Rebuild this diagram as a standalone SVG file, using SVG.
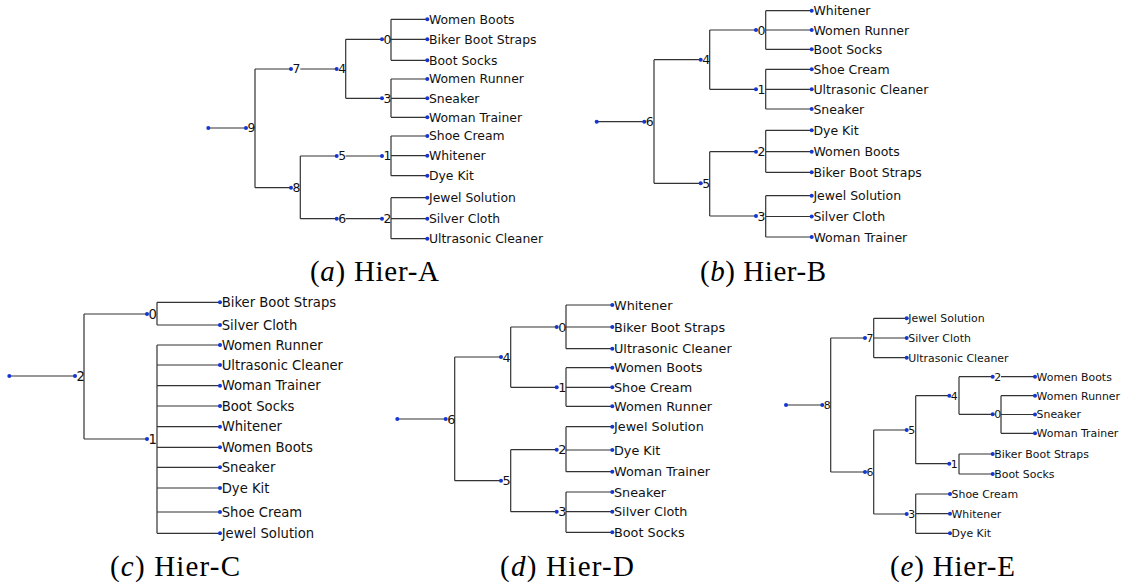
<svg xmlns="http://www.w3.org/2000/svg" width="1123" height="588" viewBox="0 0 1123 588">
<style>
.ln{stroke:#333;stroke-width:1.2;fill:none}
.dt{fill:#1436d2}
text{font-family:"DejaVu Sans",Verdana,sans-serif;fill:#111}
.a text{font-size:12.4px}
.b text{font-size:12.5px}
.c text{font-size:13.2px}
.d text{font-size:12.8px}
.e text{font-size:10.9px}
.cap{font-family:"Liberation Serif","Times New Roman",serif;font-size:29px;fill:#000}
</style>
<rect width="1123" height="588" fill="#fff"/>

<!-- ===== Connectors ===== -->
<g id="connectors" class="ln">
  <!-- A -->
  <path d="M208.3,128H246 M255,69V187.7 M255,69H291 M255,187.7H291 M300.3,69H336.7 M345.7,39.3V98.3 M345.7,39.3H382 M345.7,98.3H382 M391,19.3V60.3 M391,19.3H427.3 M391,39.3H427.3 M391,60.3H427.3 M391,79V117.3 M391,79H427.3 M391,98.3H427.3 M391,117.3H427.3 M300.3,156V218.7 M300.3,156H336.7 M300.3,218.7H336.7 M345.7,156H382 M391,136V175.7 M391,136H427.3 M391,155.7H427.3 M391,175.7H427.3 M345.7,218.7H382 M391,197.7V238.7 M391,197.7H427.3 M391,218.7H427.3 M391,238.7H427.3"/>
  <!-- B -->
  <path d="M596.7,121.7H644.3 M654,59.7V183.3 M654,59.7H700.7 M654,183.3H700.7 M709.7,30V89.3 M709.7,30H756 M709.7,89.3H756 M765.7,10.7V49.3 M765.7,10.7H811.7 M765.7,30H811.7 M765.7,49.3H811.7 M765.7,69.3V109 M765.7,69.3H811.7 M765.7,89.3H811.7 M765.7,109H811.7 M709.7,151.7V216 M709.7,151.7H756 M709.7,216H756 M765.7,130.3V172.3 M765.7,130.3H811.7 M765.7,151.7H811.7 M765.7,172.3H811.7 M765.7,195.7V237 M765.7,195.7H811.7 M765.7,216.5H811.7 M765.7,237H811.7"/>
  <!-- C -->
  <path d="M9.3,376H75 M84,314V439 M84,314H147 M84,439H147 M157,302.3V325 M157,302.3H220 M157,325H220 M157,345V533.3 M157,345H220 M157,365H220 M157,385.7H220 M157,406H220 M157,426.7H220 M157,447.3H220 M157,467.3H220 M157,488H220 M157,512H220 M157,533.3H220"/>
  <!-- D -->
  <path d="M397.3,419H445.7 M454.7,357V480.7 M454.7,357H501 M454.7,480.7H501 M510.7,327V387.3 M510.7,327H556.7 M510.7,387.3H556.7 M566,305V348.7 M566,305H612.3 M566,327H612.3 M566,348.7H612.3 M566,367.7V406.3 M566,367.7H612.3 M566,387.3H612.3 M566,406.3H612.3 M510.7,449.7V511.7 M510.7,449.7H556.7 M510.7,511.7H556.7 M566,426.7V471.7 M566,426.7H612.3 M566,450H612.3 M566,471.7H612.3 M566,492V532.3 M566,492H612.3 M566,511.7H612.3 M566,532.3H612.3"/>
  <!-- E -->
  <path d="M786,405H822.3 M830.7,338V472 M830.7,338H865 M830.7,472H865 M873.7,318.3V357.7 M873.7,318.3H906.7 M873.7,338H906.7 M873.7,357.7H906.7 M873.7,430V514 M873.7,430H906.7 M873.7,514H906.7 M915.7,395.7V463.7 M915.7,395.7H949.3 M915.7,463.7H949.3 M959,376.7V414.3 M959,376.7H992.7 M959,414.3H992.7 M1001,376.7H1035 M1001,395.7V433.3 M1001,395.7H1035 M1001,414.5H1035 M1001,433.3H1035 M959,454V474 M959,454H992.7 M959,474H992.7 M915.7,494V533.3 M915.7,494H950 M915.7,513.7H950 M915.7,533.3H950"/>
</g>

<!-- ===== Panel A ===== -->
<g id="panel-a" class="a">
  <g id="a-root"><circle class="dt" cx="208.3" cy="128" r="2"/></g>
  <g id="a-n9"><circle class="dt" cx="246" cy="128" r="2"/><text x="247.5" y="128" dy="0.36em">9</text></g>
  <g id="a-n7"><circle class="dt" cx="291" cy="69" r="2"/><text x="292.5" y="69" dy="0.36em">7</text></g>
  <g id="a-n8"><circle class="dt" cx="291" cy="187.7" r="2"/><text x="292.5" y="187.7" dy="0.36em">8</text></g>
  <g id="a-n4"><circle class="dt" cx="336.7" cy="69" r="2"/><text x="338.2" y="69" dy="0.36em">4</text></g>
  <g id="a-n5"><circle class="dt" cx="336.7" cy="156" r="2"/><text x="338.2" y="156" dy="0.36em">5</text></g>
  <g id="a-n6"><circle class="dt" cx="336.7" cy="218.7" r="2"/><text x="338.2" y="218.7" dy="0.36em">6</text></g>
  <g id="a-n0"><circle class="dt" cx="382" cy="39.3" r="2"/><text x="383.5" y="39.3" dy="0.36em">0</text></g>
  <g id="a-n3"><circle class="dt" cx="382" cy="98.3" r="2"/><text x="383.5" y="98.3" dy="0.36em">3</text></g>
  <g id="a-n1"><circle class="dt" cx="382" cy="156" r="2"/><text x="383.5" y="156" dy="0.36em">1</text></g>
  <g id="a-n2"><circle class="dt" cx="382" cy="218.7" r="2"/><text x="383.5" y="218.7" dy="0.36em">2</text></g>
  <g id="a-women-boots"><circle class="dt" cx="427.3" cy="19.3" r="2"/><text x="429" y="19.3" dy="0.36em">Women Boots</text></g>
  <g id="a-biker-boot-straps"><circle class="dt" cx="427.3" cy="39.3" r="2"/><text x="429" y="39.3" dy="0.36em">Biker Boot Straps</text></g>
  <g id="a-boot-socks"><circle class="dt" cx="427.3" cy="60.3" r="2"/><text x="429" y="60.3" dy="0.36em">Boot Socks</text></g>
  <g id="a-women-runner"><circle class="dt" cx="427.3" cy="79" r="2"/><text x="429" y="79" dy="0.36em">Women Runner</text></g>
  <g id="a-sneaker"><circle class="dt" cx="427.3" cy="98.3" r="2"/><text x="429" y="98.3" dy="0.36em">Sneaker</text></g>
  <g id="a-woman-trainer"><circle class="dt" cx="427.3" cy="117.3" r="2"/><text x="429" y="117.3" dy="0.36em">Woman Trainer</text></g>
  <g id="a-shoe-cream"><circle class="dt" cx="427.3" cy="136" r="2"/><text x="429" y="136" dy="0.36em">Shoe Cream</text></g>
  <g id="a-whitener"><circle class="dt" cx="427.3" cy="155.7" r="2"/><text x="429" y="155.7" dy="0.36em">Whitener</text></g>
  <g id="a-dye-kit"><circle class="dt" cx="427.3" cy="175.7" r="2"/><text x="429" y="175.7" dy="0.36em">Dye Kit</text></g>
  <g id="a-jewel-solution"><circle class="dt" cx="427.3" cy="197.7" r="2"/><text x="429" y="197.7" dy="0.36em">Jewel Solution</text></g>
  <g id="a-silver-cloth"><circle class="dt" cx="427.3" cy="218.7" r="2"/><text x="429" y="218.7" dy="0.36em">Silver Cloth</text></g>
  <g id="a-ultrasonic-cleaner"><circle class="dt" cx="427.3" cy="238.7" r="2"/><text x="429" y="238.7" dy="0.36em">Ultrasonic Cleaner</text></g>
</g>

<!-- ===== Panel B ===== -->
<g id="panel-b" class="b">
  <g id="b-root"><circle class="dt" cx="596.7" cy="121.7" r="2"/></g>
  <g id="b-n6"><circle class="dt" cx="644.3" cy="121.7" r="2"/><text x="645.8" y="121.7" dy="0.36em">6</text></g>
  <g id="b-n4"><circle class="dt" cx="700.7" cy="59.7" r="2"/><text x="702.2" y="59.7" dy="0.36em">4</text></g>
  <g id="b-n5"><circle class="dt" cx="700.7" cy="183.3" r="2"/><text x="702.2" y="183.3" dy="0.36em">5</text></g>
  <g id="b-n0"><circle class="dt" cx="756" cy="30" r="2"/><text x="757.5" y="30" dy="0.36em">0</text></g>
  <g id="b-n1"><circle class="dt" cx="756" cy="89.3" r="2"/><text x="757.5" y="89.3" dy="0.36em">1</text></g>
  <g id="b-n2"><circle class="dt" cx="756" cy="151.7" r="2"/><text x="757.5" y="151.7" dy="0.36em">2</text></g>
  <g id="b-n3"><circle class="dt" cx="756" cy="216" r="2"/><text x="757.5" y="216" dy="0.36em">3</text></g>
  <g id="b-whitener"><circle class="dt" cx="811.7" cy="10.7" r="2"/><text x="813.4" y="10.7" dy="0.36em">Whitener</text></g>
  <g id="b-women-runner"><circle class="dt" cx="811.7" cy="30" r="2"/><text x="813.4" y="30" dy="0.36em">Women Runner</text></g>
  <g id="b-boot-socks"><circle class="dt" cx="811.7" cy="49.3" r="2"/><text x="813.4" y="49.3" dy="0.36em">Boot Socks</text></g>
  <g id="b-shoe-cream"><circle class="dt" cx="811.7" cy="69.3" r="2"/><text x="813.4" y="69.3" dy="0.36em">Shoe Cream</text></g>
  <g id="b-ultrasonic-cleaner"><circle class="dt" cx="811.7" cy="89.3" r="2"/><text x="813.4" y="89.3" dy="0.36em">Ultrasonic Cleaner</text></g>
  <g id="b-sneaker"><circle class="dt" cx="811.7" cy="109" r="2"/><text x="813.4" y="109" dy="0.36em">Sneaker</text></g>
  <g id="b-dye-kit"><circle class="dt" cx="811.7" cy="130.3" r="2"/><text x="813.4" y="130.3" dy="0.36em">Dye Kit</text></g>
  <g id="b-women-boots"><circle class="dt" cx="811.7" cy="151.7" r="2"/><text x="813.4" y="151.7" dy="0.36em">Women Boots</text></g>
  <g id="b-biker-boot-straps"><circle class="dt" cx="811.7" cy="172.3" r="2"/><text x="813.4" y="172.3" dy="0.36em">Biker Boot Straps</text></g>
  <g id="b-jewel-solution"><circle class="dt" cx="811.7" cy="195.7" r="2"/><text x="813.4" y="195.7" dy="0.36em">Jewel Solution</text></g>
  <g id="b-silver-cloth"><circle class="dt" cx="811.7" cy="216.5" r="2"/><text x="813.4" y="216.5" dy="0.36em">Silver Cloth</text></g>
  <g id="b-woman-trainer"><circle class="dt" cx="811.7" cy="237" r="2"/><text x="813.4" y="237" dy="0.36em">Woman Trainer</text></g>
</g>

<!-- ===== Panel C ===== -->
<g id="panel-c" class="c">
  <g id="c-root"><circle class="dt" cx="9.3" cy="376" r="2"/></g>
  <g id="c-n2"><circle class="dt" cx="75" cy="376" r="2"/><text x="76.5" y="376" dy="0.36em">2</text></g>
  <g id="c-n0"><circle class="dt" cx="147" cy="314" r="2"/><text x="148.5" y="314" dy="0.36em">0</text></g>
  <g id="c-n1"><circle class="dt" cx="147" cy="439" r="2"/><text x="148.5" y="439" dy="0.36em">1</text></g>
  <g id="c-biker-boot-straps"><circle class="dt" cx="220" cy="302.3" r="2"/><text x="221.7" y="302.3" dy="0.36em">Biker Boot Straps</text></g>
  <g id="c-silver-cloth"><circle class="dt" cx="220" cy="325" r="2"/><text x="221.7" y="325" dy="0.36em">Silver Cloth</text></g>
  <g id="c-women-runner"><circle class="dt" cx="220" cy="345" r="2"/><text x="221.7" y="345" dy="0.36em">Women Runner</text></g>
  <g id="c-ultrasonic-cleaner"><circle class="dt" cx="220" cy="365" r="2"/><text x="221.7" y="365" dy="0.36em">Ultrasonic Cleaner</text></g>
  <g id="c-woman-trainer"><circle class="dt" cx="220" cy="385.7" r="2"/><text x="221.7" y="385.7" dy="0.36em">Woman Trainer</text></g>
  <g id="c-boot-socks"><circle class="dt" cx="220" cy="406" r="2"/><text x="221.7" y="406" dy="0.36em">Boot Socks</text></g>
  <g id="c-whitener"><circle class="dt" cx="220" cy="426.7" r="2"/><text x="221.7" y="426.7" dy="0.36em">Whitener</text></g>
  <g id="c-women-boots"><circle class="dt" cx="220" cy="447.3" r="2"/><text x="221.7" y="447.3" dy="0.36em">Women Boots</text></g>
  <g id="c-sneaker"><circle class="dt" cx="220" cy="467.3" r="2"/><text x="221.7" y="467.3" dy="0.36em">Sneaker</text></g>
  <g id="c-dye-kit"><circle class="dt" cx="220" cy="488" r="2"/><text x="221.7" y="488" dy="0.36em">Dye Kit</text></g>
  <g id="c-shoe-cream"><circle class="dt" cx="220" cy="512" r="2"/><text x="221.7" y="512" dy="0.36em">Shoe Cream</text></g>
  <g id="c-jewel-solution"><circle class="dt" cx="220" cy="533.3" r="2"/><text x="221.7" y="533.3" dy="0.36em">Jewel Solution</text></g>
</g>

<!-- ===== Panel D ===== -->
<g id="panel-d" class="d">
  <g id="d-root"><circle class="dt" cx="397.3" cy="419" r="2"/></g>
  <g id="d-n6"><circle class="dt" cx="445.7" cy="419" r="2"/><text x="447.2" y="419" dy="0.36em">6</text></g>
  <g id="d-n4"><circle class="dt" cx="501" cy="357" r="2"/><text x="502.5" y="357" dy="0.36em">4</text></g>
  <g id="d-n5"><circle class="dt" cx="501" cy="480.7" r="2"/><text x="502.5" y="480.7" dy="0.36em">5</text></g>
  <g id="d-n0"><circle class="dt" cx="556.7" cy="327" r="2"/><text x="558.2" y="327" dy="0.36em">0</text></g>
  <g id="d-n1"><circle class="dt" cx="556.7" cy="387.3" r="2"/><text x="558.2" y="387.3" dy="0.36em">1</text></g>
  <g id="d-n2"><circle class="dt" cx="556.7" cy="449.7" r="2"/><text x="558.2" y="449.7" dy="0.36em">2</text></g>
  <g id="d-n3"><circle class="dt" cx="556.7" cy="511.7" r="2"/><text x="558.2" y="511.7" dy="0.36em">3</text></g>
  <g id="d-whitener"><circle class="dt" cx="612.3" cy="305" r="2"/><text x="614" y="305" dy="0.36em">Whitener</text></g>
  <g id="d-biker-boot-straps"><circle class="dt" cx="612.3" cy="327" r="2"/><text x="614" y="327" dy="0.36em">Biker Boot Straps</text></g>
  <g id="d-ultrasonic-cleaner"><circle class="dt" cx="612.3" cy="348.7" r="2"/><text x="614" y="348.7" dy="0.36em">Ultrasonic Cleaner</text></g>
  <g id="d-women-boots"><circle class="dt" cx="612.3" cy="367.7" r="2"/><text x="614" y="367.7" dy="0.36em">Women Boots</text></g>
  <g id="d-shoe-cream"><circle class="dt" cx="612.3" cy="387.3" r="2"/><text x="614" y="387.3" dy="0.36em">Shoe Cream</text></g>
  <g id="d-women-runner"><circle class="dt" cx="612.3" cy="406.3" r="2"/><text x="614" y="406.3" dy="0.36em">Women Runner</text></g>
  <g id="d-jewel-solution"><circle class="dt" cx="612.3" cy="426.7" r="2"/><text x="614" y="426.7" dy="0.36em">Jewel Solution</text></g>
  <g id="d-dye-kit"><circle class="dt" cx="612.3" cy="450" r="2"/><text x="614" y="450" dy="0.36em">Dye Kit</text></g>
  <g id="d-woman-trainer"><circle class="dt" cx="612.3" cy="471.7" r="2"/><text x="614" y="471.7" dy="0.36em">Woman Trainer</text></g>
  <g id="d-sneaker"><circle class="dt" cx="612.3" cy="492" r="2"/><text x="614" y="492" dy="0.36em">Sneaker</text></g>
  <g id="d-silver-cloth"><circle class="dt" cx="612.3" cy="511.7" r="2"/><text x="614" y="511.7" dy="0.36em">Silver Cloth</text></g>
  <g id="d-boot-socks"><circle class="dt" cx="612.3" cy="532.3" r="2"/><text x="614" y="532.3" dy="0.36em">Boot Socks</text></g>
</g>

<!-- ===== Panel E ===== -->
<g id="panel-e" class="e">
  <g id="e-root"><circle class="dt" cx="786" cy="405" r="2"/></g>
  <g id="e-n8"><circle class="dt" cx="822.3" cy="405" r="2"/><text x="823.8" y="405" dy="0.36em">8</text></g>
  <g id="e-n7"><circle class="dt" cx="865" cy="338" r="2"/><text x="866.5" y="338" dy="0.36em">7</text></g>
  <g id="e-n6"><circle class="dt" cx="865" cy="472" r="2"/><text x="866.5" y="472" dy="0.36em">6</text></g>
  <g id="e-n5"><circle class="dt" cx="906.7" cy="430" r="2"/><text x="908.2" y="430" dy="0.36em">5</text></g>
  <g id="e-n3"><circle class="dt" cx="906.7" cy="514" r="2"/><text x="908.2" y="514" dy="0.36em">3</text></g>
  <g id="e-n4"><circle class="dt" cx="949.3" cy="395.7" r="2"/><text x="950.8" y="395.7" dy="0.36em">4</text></g>
  <g id="e-n1"><circle class="dt" cx="949.3" cy="463.7" r="2"/><text x="950.8" y="463.7" dy="0.36em">1</text></g>
  <g id="e-n2"><circle class="dt" cx="992.7" cy="376.7" r="2"/><text x="994.2" y="376.7" dy="0.36em">2</text></g>
  <g id="e-n0"><circle class="dt" cx="992.7" cy="414.3" r="2"/><text x="994.2" y="414.3" dy="0.36em">0</text></g>
  <g id="e-jewel-solution"><circle class="dt" cx="906.7" cy="318.3" r="2"/><text x="908.3" y="318.3" dy="0.36em">Jewel Solution</text></g>
  <g id="e-silver-cloth"><circle class="dt" cx="906.7" cy="338" r="2"/><text x="908.3" y="338" dy="0.36em">Silver Cloth</text></g>
  <g id="e-ultrasonic-cleaner"><circle class="dt" cx="906.7" cy="357.7" r="2"/><text x="908.3" y="357.7" dy="0.36em">Ultrasonic Cleaner</text></g>
  <g id="e-women-boots"><circle class="dt" cx="1035" cy="376.7" r="2"/><text x="1036.6" y="376.7" dy="0.36em">Women Boots</text></g>
  <g id="e-women-runner"><circle class="dt" cx="1035" cy="395.7" r="2"/><text x="1036.6" y="395.7" dy="0.36em">Women Runner</text></g>
  <g id="e-sneaker"><circle class="dt" cx="1035" cy="414.5" r="2"/><text x="1036.6" y="414.5" dy="0.36em">Sneaker</text></g>
  <g id="e-woman-trainer"><circle class="dt" cx="1035" cy="433.3" r="2"/><text x="1036.6" y="433.3" dy="0.36em">Woman Trainer</text></g>
  <g id="e-biker-boot-straps"><circle class="dt" cx="992.7" cy="454" r="2"/><text x="994.3" y="454" dy="0.36em">Biker Boot Straps</text></g>
  <g id="e-boot-socks"><circle class="dt" cx="992.7" cy="474" r="2"/><text x="994.3" y="474" dy="0.36em">Boot Socks</text></g>
  <g id="e-shoe-cream"><circle class="dt" cx="950" cy="494" r="2"/><text x="951.6" y="494" dy="0.36em">Shoe Cream</text></g>
  <g id="e-whitener"><circle class="dt" cx="950" cy="513.7" r="2"/><text x="951.6" y="513.7" dy="0.36em">Whitener</text></g>
  <g id="e-dye-kit"><circle class="dt" cx="950" cy="533.3" r="2"/><text x="951.6" y="533.3" dy="0.36em">Dye Kit</text></g>
</g>

<!-- ===== Captions ===== -->
<g id="captions">
  <text class="cap" x="310" y="281" textLength="129" lengthAdjust="spacing">(<tspan font-style="italic">a</tspan>) Hier-A</text>
  <text class="cap" x="700" y="281" textLength="126" lengthAdjust="spacing">(<tspan font-style="italic">b</tspan>) Hier-B</text>
  <text class="cap" x="110" y="576" textLength="130" lengthAdjust="spacing">(<tspan font-style="italic">c</tspan>) Hier-C</text>
  <text class="cap" x="500" y="576" textLength="134" lengthAdjust="spacing">(<tspan font-style="italic">d</tspan>) Hier-D</text>
  <text class="cap" x="890" y="576" textLength="125" lengthAdjust="spacing">(<tspan font-style="italic">e</tspan>) Hier-E</text>
</g>
</svg>
